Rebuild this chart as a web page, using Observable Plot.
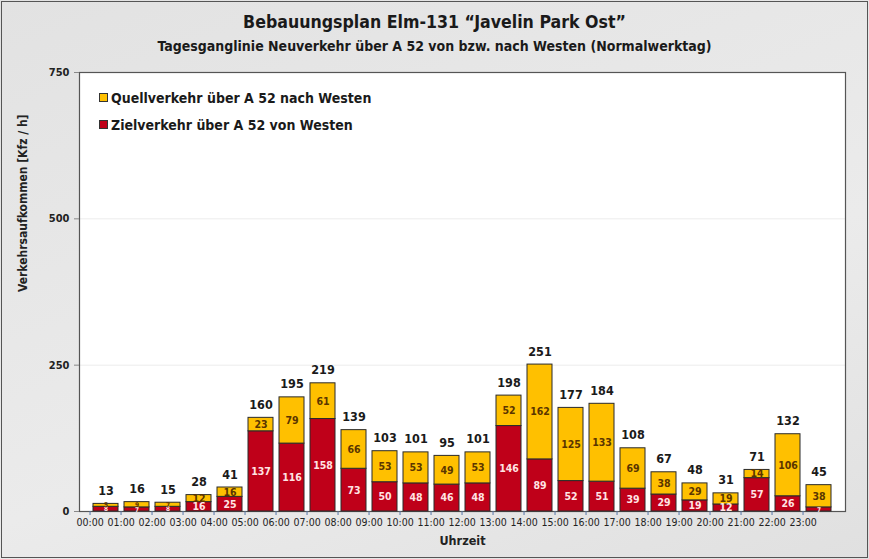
<!DOCTYPE html>
<html><head><meta charset="utf-8">
<script src="https://cdn.jsdelivr.net/npm/d3@7"></script>
<script src="https://cdn.jsdelivr.net/npm/@observablehq/plot@0.6"></script>
<style>
body{margin:0;background:#fff;}
#wrap{position:relative;width:869px;height:559px;background:linear-gradient(160deg,#e2e2e2,#ebebeb 60%,#e0e0e0);font-family:"DejaVu Sans Condensed","Liberation Sans Narrow",sans-serif;overflow:hidden;color:#111;}
#border{position:absolute;left:1px;top:1px;width:865px;height:555px;border:1px solid #555;pointer-events:none}
#title{position:absolute;top:12px;left:0;width:869px;text-align:center;font-size:17.6px;font-weight:bold;color:#1a1a1a}
#subtitle{position:absolute;top:38px;left:0;width:869px;text-align:center;font-size:14px;font-weight:bold;color:#1a1a1a}
#legend{position:absolute;left:99px;top:85px;font-size:14px;font-weight:bold;line-height:27px;color:#1a1a1a}
#legend .sw{display:inline-block;width:7px;height:7px;border:1px solid #333;margin-right:3px;vertical-align:1px}
svg{position:absolute;left:0;top:0}
</style></head>
<body>
<div id="wrap">
  <div id="title">Bebauungsplan Elm-131 “Javelin Park Ost”</div>
  <div id="subtitle">Tagesganglinie Neuverkehr über A 52 von bzw. nach Westen (Normalwerktag)</div>
</div>
<script>
const hours = ["00:00","01:00","02:00","03:00","04:00","05:00","06:00","07:00","08:00","09:00","10:00","11:00","12:00","13:00","14:00","15:00","16:00","17:00","18:00","19:00","20:00","21:00","22:00","23:00"];
const ziel  = [8,7,8,16,25,137,116,158,73,50,48,46,48,146,89,52,51,39,29,19,12,57,26,7];
const quell = [5,9,7,12,16,23,79,61,66,53,53,49,53,52,162,125,133,69,38,29,19,14,106,38];
const seriesNames = ["Zielverkehr über A 52 von Westen","Quellverkehr über A 52 nach Westen"];
const seriesColors = ["#bf0019","#ffc000"];
const yTicks = [0,250,500,750];
const yTitle = "Verkehrsaufkommen [Kfz / h]";
const xTitle = "Uhrzeit";

const totals = hours.map((h,i)=>ziel[i]+quell[i]);
const long = [];
hours.forEach((h,i)=>{ long.push({hour:h, series:seriesNames[0], value:ziel[i]}); });
hours.forEach((h,i)=>{ long.push({hour:h, series:seriesNames[1], value:quell[i]}); });
const idx = hours.map((h,i)=>i);

const W=869,H=559,ML=79,MR=24,MT=72,MB=48;
const step=(W-ML-MR)/(hours.length-0.2+0.2);
const font='"DejaVu Sans Condensed","Liberation Sans Narrow",sans-serif';
const segSize = v => v < 10 ? 6.5 : 10.5;

const chart = Plot.plot({
  width:W, height:H, marginLeft:ML, marginRight:MR, marginTop:MT, marginBottom:MB,
  style:{background:"transparent", fontFamily:font},
  x:{domain:hours, paddingInner:0.2, paddingOuter:0.1, label:null},
  y:{domain:[0,750], label:null},
  color:{domain:seriesNames, range:seriesColors},
  marks:[
    Plot.frame({fill:"#fff", stroke:"none"}),
    Plot.ruleY([250,500],{stroke:"#ececec"}),
    Plot.frame({stroke:"#555", strokeWidth:1.2}),
    Plot.axisY({ticks:yTicks, tickSize:5, tickPadding:5, fontSize:11, fontWeight:"bold", fill:"#222", stroke:"#888", label:null}),
    Plot.text([yTitle],{frameAnchor:"left", dx:-56, rotate:-90, fontSize:12, fill:"#222", fontWeight:600}),
    Plot.axisX({tickSize:4, tickPadding:3, dx:-step/2, fontSize:10.5, fill:"#222", stroke:"#5577aa", label:null}),
    Plot.text([xTitle],{frameAnchor:"bottom", dy:33, fontSize:12.5, fontWeight:"bold", fill:"#222"}),
    Plot.barY(long,{x:"hour", y:"value", fill:"series", stroke:"#2a2a2a", strokeWidth:1}),
    Plot.text(idx,{x:i=>hours[i], y:i=>ziel[i]/2, text:i=>ziel[i], fill:"#ffe4e4", fontSize:i=>segSize(ziel[i]), fontWeight:"bold"}),
    Plot.text(idx,{x:i=>hours[i], y:i=>ziel[i]+quell[i]/2, text:i=>quell[i], fill:"#5a3500", fontSize:i=>segSize(quell[i]), fontWeight:"bold"}),
    Plot.text(idx,{x:i=>hours[i], y:i=>totals[i], text:i=>totals[i], dy:-13, fontSize:12.5, fontWeight:"bold", fill:"#1a1a1a"})
  ]
});
const wrap=document.getElementById("wrap");
wrap.appendChild(chart);
const lg=document.createElement("div"); lg.id="legend";
lg.innerHTML=`<div><span class="sw" style="background:${seriesColors[1]}"></span>${seriesNames[1]}</div><div><span class="sw" style="background:${seriesColors[0]}"></span>${seriesNames[0]}</div>`;
wrap.appendChild(lg);
const b=document.createElement("div"); b.id="border"; wrap.appendChild(b);
</script>
</body></html>
